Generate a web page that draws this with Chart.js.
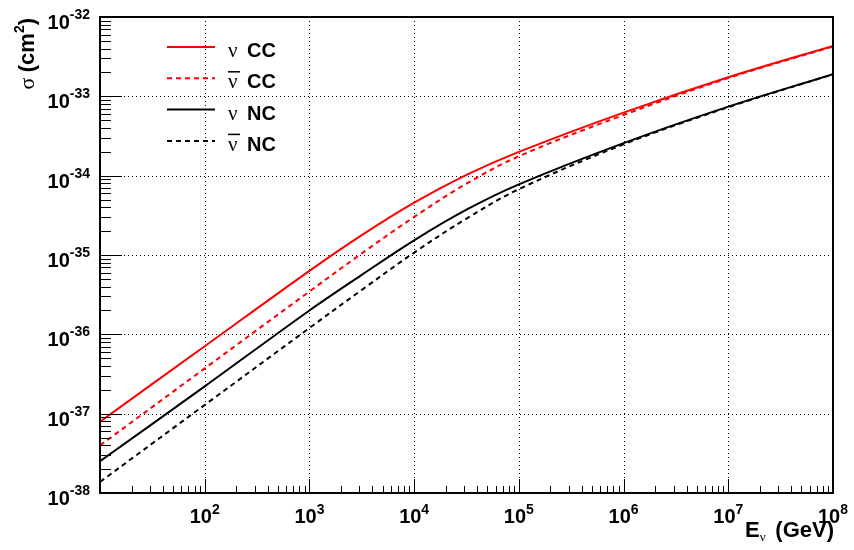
<!DOCTYPE html>
<html>
<head>
<meta charset="utf-8">
<script src="https://cdn.jsdelivr.net/npm/chart.js@4.4.1/dist/chart.umd.min.js"></script>
<style>
  body { margin: 0; background: #fff; }
  #chart { display: block; }
</style>
</head>
<body>
<canvas id="chart" width="854" height="550"></canvas>
<script>
// neutrino energy (GeV) and cross sections (cm^2)
const energies = [10, 100, 1000, 3162, 1e4, 31623, 1e5, 1e6, 1e7, 1e8];
const nuCC    = [7.94e-38, 7.08e-37, 6.31e-36, 1.78e-35, 4.57e-35, 1.023e-34, 1.995e-34, 6.24e-34, 1.738e-33, 4.31e-33];
const nubarCC = [3.98e-38, 3.72e-37, 3.47e-36, 1.047e-35, 3.02e-35, 7.94e-35, 1.758e-34, 5.82e-34, 1.70e-33, 4.25e-33];
const nuNC    = [2.51e-38, 2.21e-37, 2.00e-36, 5.62e-36, 1.531e-35, 3.72e-35, 7.76e-35, 2.57e-34, 7.41e-34, 1.905e-33];
const nubarNC = [1.38e-38, 1.288e-37, 1.202e-36, 3.63e-36, 1.072e-35, 2.88e-35, 6.76e-35, 2.48e-34, 7.30e-34, 1.897e-33];

const xTickExps = [2, 3, 4, 5, 6, 7, 8];
const yTickExps = [-38, -37, -36, -35, -34, -33, -32];
const legendNames = ["CC", "CC", "NC", "NC"];
const legendAnti = [false, true, false, true];

const toPoints = vals => vals.map((v, i) => ({ x: energies[i], y: v }));

const BOLD = "bold 20px 'Liberation Sans', Arial, sans-serif";
const SUP = "bold 14px 'Liberation Sans', Arial, sans-serif";
const GREEK = "21px 'Liberation Serif', 'Times New Roman', serif";

function drawPow(ctx, left, baseline, exp, supRise) {
    ctx.font = BOLD;
    ctx.fillText("10", left, baseline);
    const w = ctx.measureText("10").width;
    ctx.font = SUP;
    ctx.fillText(exp, left + w, baseline - supRise);
}

function powWidth(ctx, exp) {
    ctx.font = BOLD;
    const w = ctx.measureText("10").width;
    ctx.font = SUP;
    return w + ctx.measureText(exp).width;
}

function line(ctx, x1, y1, x2, y2) {
    ctx.beginPath();
    ctx.moveTo(x1, y1);
    ctx.lineTo(x2, y2);
    ctx.stroke();
}

const rootStyle = {
    id: "rootStyle",
    beforeDatasetsDraw(chart) {
        const { ctx, chartArea: a, scales: { x, y } } = chart;
        ctx.save();
        ctx.strokeStyle = "#000";
        ctx.lineWidth = 1;
        ctx.setLineDash([1, 3]);
        for (let n = 2; n <= 7; n++) {
            const px = Math.round(x.getPixelForValue(Math.pow(10, n))) + 0.5;
            line(ctx, px, a.top, px, a.bottom);
        }
        for (let n = -37; n <= -33; n++) {
            const py = Math.round(y.getPixelForValue(Math.pow(10, n))) + 0.5;
            line(ctx, a.left, py, a.right, py);
        }
        ctx.restore();
    },
    afterDraw(chart) {
        const { ctx, chartArea: a, scales: { x, y } } = chart;
        ctx.save();
        ctx.strokeStyle = "#000";
        ctx.fillStyle = "#000";
        ctx.setLineDash([]);

        // ticks, drawn inside the frame
        ctx.lineWidth = 1;
        for (let n = 1; n <= 7; n++) {
            for (let k = 1; k <= 9; k++) {
                const px = Math.round(x.getPixelForValue(k * Math.pow(10, n))) + 0.5;
                line(ctx, px, a.bottom, px, a.bottom - (k === 1 ? 14 : 7));
            }
        }
        for (let n = -38; n <= -33; n++) {
            for (let k = 1; k <= 9; k++) {
                const py = Math.round(y.getPixelForValue(k * Math.pow(10, n))) + 0.5;
                line(ctx, a.left, py, a.left + (k === 1 ? 22 : 11), py);
            }
        }

        // frame
        ctx.lineWidth = 2;
        ctx.strokeRect(a.left, a.top, a.right - a.left, a.bottom - a.top);

        // tick labels
        ctx.textAlign = "left";
        ctx.textBaseline = "alphabetic";
        xTickExps.forEach(e => {
            const px = x.getPixelForValue(Math.pow(10, e));
            const w = powWidth(ctx, String(e));
            drawPow(ctx, px - w / 2, 523, String(e), 9);
        });
        yTickExps.forEach(e => {
            const py = y.getPixelForValue(Math.pow(10, e));
            const w = powWidth(ctx, String(e));
            drawPow(ctx, 90 - w, py + 12, String(e), 10);
        });

        // x title: E_nu (GeV)
        ctx.font = "bold 22px 'Liberation Sans', Arial, sans-serif";
        const wGeV = ctx.measureText("(GeV)").width;
        ctx.fillText("(GeV)", 834 - wGeV, 537);
        ctx.fillText("E", 745, 537);
        const wE = ctx.measureText("E").width;
        ctx.font = "13px 'Liberation Serif', serif";
        ctx.fillText("\u03bd", 745 + wE, 541);

        // y title: sigma (cm^2), rotated
        ctx.save();
        ctx.translate(34, 18);
        ctx.rotate(-Math.PI / 2);
        const parts = [
            ["\u03c3 ", "22px 'Liberation Serif', serif", 0],
            ["(cm", "bold 22px 'Liberation Sans', Arial, sans-serif", 0],
            ["2", "bold 14px 'Liberation Sans', Arial, sans-serif", 10],
            [")", "bold 22px 'Liberation Sans', Arial, sans-serif", 0]
        ];
        let total = 0;
        parts.forEach(p => { ctx.font = p[1]; total += ctx.measureText(p[0]).width; });
        let cx = -total;
        parts.forEach(p => {
            ctx.font = p[1];
            ctx.fillText(p[0], cx, -p[2]);
            cx += ctx.measureText(p[0]).width;
        });
        ctx.restore();

        // legend
        chart.data.datasets.forEach((ds, i) => {
            const ry = 47 + i * 31.3;
            ctx.strokeStyle = ds.borderColor;
            ctx.lineWidth = 2;
            ctx.setLineDash(ds.borderDash || []);
            line(ctx, 167, ry, 215, ry);
            ctx.setLineDash([]);
            ctx.fillStyle = "#000";
            ctx.font = GREEK;
            ctx.fillText("\u03bd", 228, ry + 10);
            if (legendAnti[i]) {
                ctx.strokeStyle = "#000";
                ctx.lineWidth = 1.5;
                line(ctx, 228, ry - 6.5, 240, ry - 6.5);
            }
            ctx.font = BOLD;
            ctx.fillText(legendNames[i], 247, ry + 10);
        });
        ctx.restore();
    }
};

const lineStyle = { borderWidth: 2, pointRadius: 0, tension: 0.35, fill: false };

new Chart(document.getElementById("chart"), {
    type: "line",
    data: {
        datasets: [
            { ...lineStyle, label: "nu CC", data: toPoints(nuCC), borderColor: "#ff0000" },
            { ...lineStyle, label: "nubar CC", data: toPoints(nubarCC), borderColor: "#ff0000", borderDash: [5, 4] },
            { ...lineStyle, label: "nu NC", data: toPoints(nuNC), borderColor: "#000000" },
            { ...lineStyle, label: "nubar NC", data: toPoints(nubarNC), borderColor: "#000000", borderDash: [5, 4] }
        ]
    },
    options: {
        responsive: false,
        devicePixelRatio: 1,
        animation: false,
        layout: { padding: { left: 100, right: 21, top: 17, bottom: 57 } },
        plugins: { legend: { display: false }, tooltip: { enabled: false } },
        scales: {
            x: { type: "logarithmic", min: 10, max: 1e8, display: false },
            y: { type: "logarithmic", min: 1e-38, max: 1e-32, display: false }
        }
    },
    plugins: [rootStyle]
});
</script>
</body>
</html>
